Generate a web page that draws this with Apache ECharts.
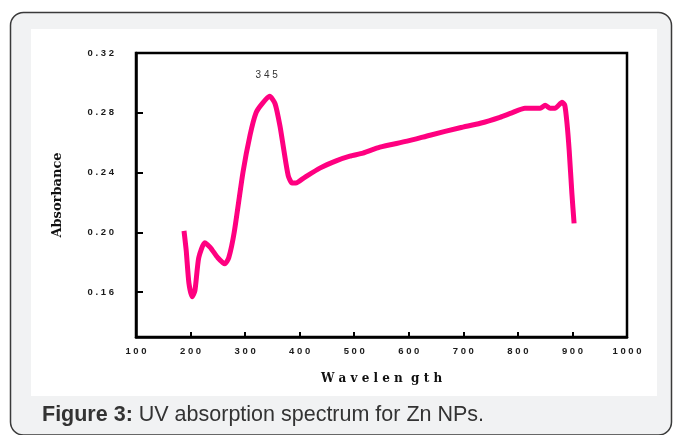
<!DOCTYPE html>
<html>
<head>
<meta charset="UTF-8">
<title>UV absorption spectrum</title>
<script src="https://cdn.jsdelivr.net/npm/echarts@6/dist/echarts.min.js"></script>
<style>
  html, body { margin: 0; padding: 0; background: #fff; }
  #chart { width: 674px; height: 435px; }
</style>
</head>
<body>
<div id="chart"></div>
<script>
// wavelength (nm) and absorbance
var wavelength = [188, 192, 197, 203, 208, 215, 226, 236, 250, 263, 270, 280, 296, 309, 320, 331, 345, 355, 364, 371, 379, 386, 393, 410, 437, 468, 492, 516, 547, 597, 639, 694, 731, 767, 789, 813, 841, 850, 859, 868, 881, 886, 890, 894, 899, 903];
var absorbance = [0.201, 0.188, 0.166, 0.157, 0.161, 0.183, 0.193, 0.190, 0.183, 0.179, 0.183, 0.200, 0.240, 0.265, 0.280, 0.286, 0.291, 0.286, 0.271, 0.255, 0.238, 0.233, 0.233, 0.237, 0.243, 0.248, 0.251, 0.253, 0.257, 0.261, 0.265, 0.270, 0.273, 0.277, 0.280, 0.283, 0.283, 0.285, 0.283, 0.283, 0.287, 0.285, 0.273, 0.255, 0.226, 0.206];
var yTicks = [0.16, 0.20, 0.24, 0.28, 0.32];
var peak = [345, 0.291];
var peakLabel = '3 4 5';

var points = [];
for (var i = 0; i < wavelength.length; i++) {
  points.push([wavelength[i], absorbance[i]]);
}

function spaced(s) { return s.split('').join(' '); }

var chart = echarts.init(document.getElementById('chart'));
var option = {
  backgroundColor: '#fff',
  animation: false,
  graphic: [
    { type: 'rect', z: -20, shape: { x: 10.5, y: 12.5, width: 661, height: 422.5, r: 13 },
      style: { fill: '#f1f2f3', stroke: '#3a3a3a', lineWidth: 1.5 } },
    { type: 'rect', z: -10, shape: { x: 31, y: 29, width: 626, height: 367 },
      style: { fill: '#fff' } },
    { type: 'text', left: 42, top: 404,
      style: {
        text: '{b|Figure 3:} UV absorption spectrum for Zn NPs.',
        fontFamily: 'Liberation Sans', fontSize: 21.5, fill: '#333',
        rich: { b: { fontFamily: 'Liberation Sans', fontSize: 21.5, fontWeight: 'bold', fill: '#333' } }
      } }
  ],
  grid: { left: 136, right: 47, top: 53, bottom: 98, show: true, borderColor: '#000', borderWidth: 2.5 },
  xAxis: {
    type: 'value', min: 100, max: 1000, interval: 100,
    name: 'W a v e l e n  g t h', nameLocation: 'middle', nameGap: 36,
    nameTextStyle: { fontFamily: 'DejaVu Serif', fontWeight: 'bold', fontSize: 12, color: '#111' },
    axisLine: { lineStyle: { color: '#000', width: 2.5 } },
    axisTick: { inside: true, length: 5, lineStyle: { color: '#000', width: 2 } },
    axisLabel: { margin: 9, fontFamily: 'Liberation Sans', fontWeight: 'bold', fontSize: 9.5, color: '#1a1a1a',
      formatter: function (v) { return spaced(String(v)); } },
    splitLine: { show: false }
  },
  yAxis: {
    type: 'value', min: 0.13, max: 0.32,
    name: 'Absorbance', nameLocation: 'middle', nameGap: 72, nameRotate: 90,
    nameTextStyle: { fontFamily: 'DejaVu Serif', fontWeight: 'bold', fontSize: 13, color: '#111' },
    axisLine: { lineStyle: { color: '#000', width: 2.5 } },
    axisTick: { inside: true, length: 7, customValues: yTicks, lineStyle: { color: '#000', width: 2 } },
    axisLabel: { margin: 22, customValues: yTicks, fontFamily: 'Liberation Sans', fontWeight: 'bold', fontSize: 9.5, color: '#1a1a1a',
      formatter: function (v) { return spaced(v.toFixed(2)); } },
    splitLine: { show: false }
  },
  series: [{
    type: 'line',
    data: points,
    showSymbol: false,
    smooth: 0.2,
    lineStyle: { color: '#ff0080', width: 5, join: 'round' },
    markPoint: {
      symbol: 'circle', symbolSize: 0,
      label: { show: true, position: 'top', distance: 16, offset: [-3, 0],
        fontFamily: 'Liberation Sans', fontSize: 10, color: '#333', formatter: peakLabel },
      data: [{ coord: peak }]
    }
  }]
};
chart.setOption(option);
</script>
</body>
</html>
